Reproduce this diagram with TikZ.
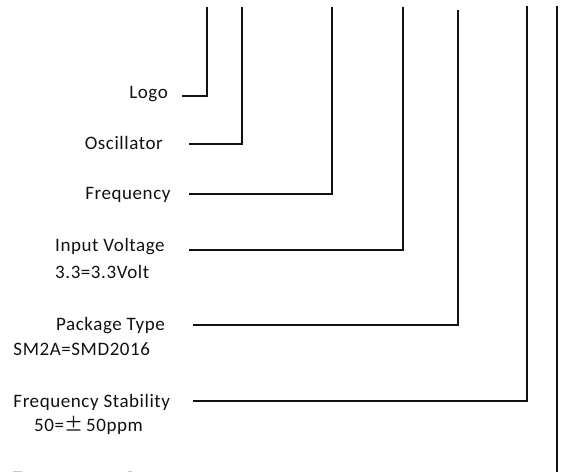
\documentclass[tikz,border=0pt]{standalone}
\usepackage{fontspec}
\setmainfont{Carlito}[LetterSpace=3]
\newfontfamily\cjk{Noto Sans CJK SC}
\definecolor{ink}{HTML}{111111}
\definecolor{faint}{HTML}{C8C8C8}
\begin{document}
\begin{tikzpicture}[x=1bp,y=-1bp,
  lbl/.style={font=\fontsize{19bp}{22bp}\selectfont, inner sep=0pt, text=ink},
  lead/.style={draw=ink, line width=1.7bp}]
\useasboundingbox (0,0) rectangle (565,472);
% labels
\node[lbl, anchor=base east] (logo) at (168,98.3) {Logo};
\node[lbl, anchor=base east] (osc) at (163,150) {Oscillator};
\node[lbl, anchor=base east] (freq) at (170.7,199.3) {Frequency};
\node[lbl, anchor=base west] (volt) at (55,251.7) {Input Voltage};
\node[lbl, anchor=base west] (volt2) at (55,278.3) {3.3=3.3Volt};
\node[lbl, anchor=base west] (pkg) at (56,330.7) {Package Type};
\node[lbl, anchor=base west] (pkg2) at (13.3,355) {SM2A=SMD2016};
\node[lbl, anchor=base west] (stab) at (13.3,407.7) {Frequency Stability};
\node[lbl, anchor=base west] (stab2) at (34,431.7) {50={\cjk ±\,}50ppm};
% lead line ends
\coordinate (t1) at (207,7.3);  \coordinate (s1) at (182,95.7);
\coordinate (t2) at (242,7.3);  \coordinate (s2) at (189,144.3);
\coordinate (t3) at (332,7.3);  \coordinate (s3) at (188.5,193.7);
\coordinate (t4) at (403,7.3);  \coordinate (s4) at (188.5,250);
\coordinate (t5) at (458,10);   \coordinate (s5) at (193,325);
\coordinate (t6) at (527,6);    \coordinate (s6) at (193,400.7);
\coordinate (t7) at (557,6);    \coordinate (b7) at (557,472);
\draw[lead] (t1) |- (s1);
\draw[lead] (t2) |- (s2);
\draw[lead] (t3) |- (s3);
\draw[lead] (t4) |- (s4);
\draw[lead] (t5) |- (s5);
\draw[lead] (t6) |- (s6);
\draw[lead] (t7) -- (b7);
% faint cut-off marks at the bottom edge
\fill[faint] (12.7,470.7) rectangle (22,472);
\fill[faint] (127.7,470.7) rectangle (131.7,472);
\end{tikzpicture}
\end{document}
